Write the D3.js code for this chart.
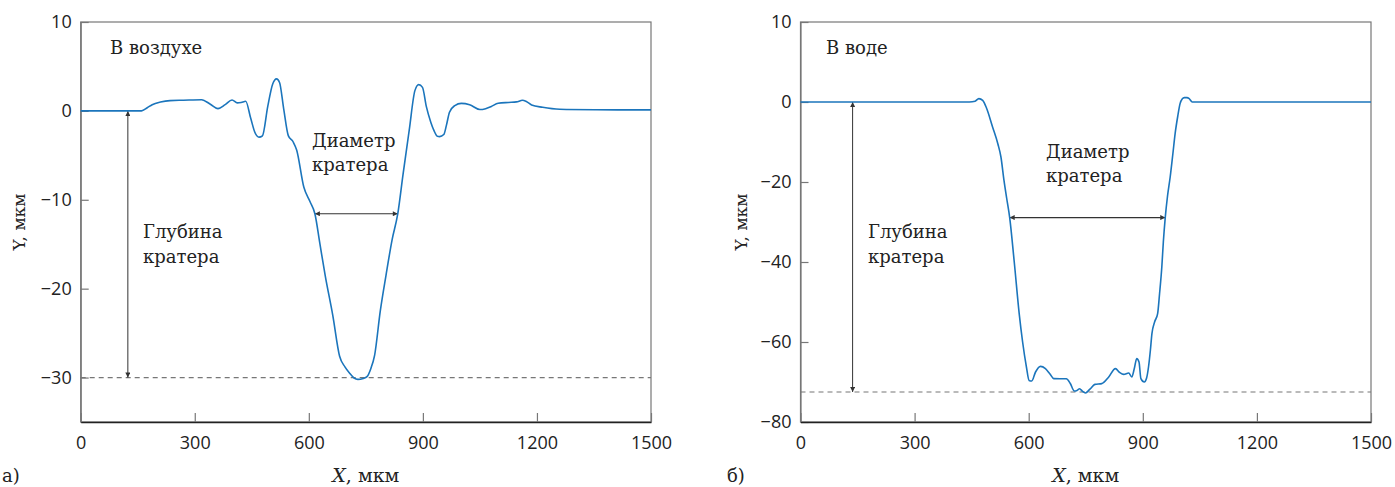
<!DOCTYPE html>
<html>
<head>
<meta charset="utf-8">
<script src="https://cdn.jsdelivr.net/npm/d3@7"></script>
<style>
  html, body { margin: 0; padding: 0; background: #fff; }
  svg { display: block; }
  .tick text { font-family: "Open Sans", "Noto Sans", sans-serif; font-size: 18px; fill: #222; }
  .serif { font-family: "DejaVu Serif", serif; fill: #222; }
</style>
</head>
<body>
<svg id="chart" width="1395" height="487"></svg>
<script>
// ---------- data ----------
const airX = [0,100,160,175,188,210,235,270,318,341,361,380,398,412,422,434,447,458,469,478,492,505,515,523,534,546,559,568,587,603,616,629,643,663,681,695,708,719,729,743,753,763,773,788,803,819,834,848,864,879,889,899,909,921,929,938,944,955,962,970,984,1001,1023,1050,1065,1080,1098,1125,1146,1162,1172,1186,1215,1260,1355,1500];
const airY = [0,0,0,0.35,0.7,1.0,1.16,1.2,1.25,0.75,0.25,0.7,1.23,0.9,0.95,1.08,-0.8,-2.4,-2.95,-2.8,0.5,3.03,3.6,3.2,0.2,-2.78,-3.5,-4.4,-8.6,-10.2,-11.57,-14.9,-18.5,-23,-27.6,-28.8,-29.55,-30.05,-30.2,-30.1,-29.9,-29.0,-27.5,-22.5,-18.5,-14.5,-11.57,-7.08,-2.2,2.28,2.96,2.65,0.5,-1.3,-2.2,-2.85,-2.89,-2.66,-1.6,-0.15,0.6,0.85,0.7,0.15,0.25,0.5,0.85,0.95,1.01,1.19,1.05,0.67,0.4,0.18,0.13,0.11];

const waterX = [0,444,459,469,479,489,505,519,527,535,542,550,562,575,584,594,601,608,618,631,644,656,666,699,709,720,727,734,741,749,761,774,792,810,828,839,850,863,871,878,884,890,895,904,910,915,920,924,931,939,944,950,954,959,965,972,979,985,992,998,1004,1009,1016,1022,1030,1100,1500];
const waterY = [0,0,0.2,0.85,0.4,-1.5,-6.25,-10.5,-13.75,-19.6,-24,-28.9,-40,-52.9,-60,-66.25,-69.6,-69.75,-67.5,-66.1,-66.65,-68,-69.15,-69.2,-70.3,-72.25,-72.1,-71.7,-72.3,-72.75,-71.8,-70.6,-70.4,-68.8,-66.65,-67.6,-68.1,-67.75,-68.75,-66.5,-64.15,-65,-69.15,-70,-69,-66.25,-62,-57.9,-55,-52.9,-48,-41.25,-35,-28.9,-23.5,-18.75,-13,-7.9,-3.5,-0.4,0.8,1.1,1.1,0.85,0,0,0];

const xTicks = [0,300,600,900,1200,1500];
const airYTicks = [10,0,-10,-20,-30];
const airYTickLabels = ["10","0","−10","−20","−30"];
const airYDomain = [-35,10];
// right panel: the top tick of the original axis sits one 20-step above 0 but is printed "10"
const waterYTicks = [20,0,-20,-40,-60,-80];
const waterYTickLabels = ["10","0","−20","−40","−60","−80"];
const waterYDomain = [-80,20];
const xDomain = [0,1500];

// annotation values (data units): [depthArrowX, depthY, diamLeftX, diamRightX, diamY]
const airMarks = [124, -30, 616, 834, -11.57];
const waterMarks = [137, -72.5, 550, 959, -28.9];

const panelLabels = ["а)", "б)"];
const envLabels = ["В воздухе", "В воде"];
const diamLabel = ["Диаметр", "кратера"];
const depthLabel = ["Глубина", "кратера"];

// ---------- drawing ----------
const svg = d3.select("#chart");
const defs = svg.append("defs");
["s","e"].forEach(id => {
  defs.append("marker")
    .attr("id", "arr-" + id)
    .attr("viewBox", "0 0 10 10")
    .attr("refX", id === "e" ? 10 : 0).attr("refY", 5)
    .attr("markerWidth", 7).attr("markerHeight", 5)
    .attr("markerUnits", "userSpaceOnUse")
    .attr("orient", "auto")
    .append("path")
    .attr("d", id === "e" ? "M0,0 L10,5 L0,10 Z" : "M10,0 L0,5 L10,10 Z")
    .attr("fill", "#333");
});

function panel(cfg) {
  const x = d3.scaleLinear().domain(xDomain).range([cfg.x0, cfg.x1]);
  const y = d3.scaleLinear().domain(cfg.yDomain).range([cfg.y1, cfg.y0]);
  const g = svg.append("g");

  // frame
  g.append("rect")
    .attr("x", cfg.x0).attr("y", cfg.y0)
    .attr("width", cfg.x1 - cfg.x0).attr("height", cfg.y1 - cfg.y0)
    .attr("fill", "none").attr("stroke", "#777").attr("stroke-width", 1.2);

  // axes
  const ya = g.append("g").attr("transform", `translate(${cfg.x0},0)`)
    .call(d3.axisLeft(y).tickValues(cfg.yTicks)
      .tickFormat((d, i) => cfg.yTickLabels[i])
      .tickSizeInner(-8).tickSizeOuter(0).tickPadding(9));
  ya.select(".domain").attr("stroke", "#777").attr("stroke-width", 1.2);
  ya.selectAll(".tick line").attr("stroke", "#777").attr("stroke-width", 1.2);

  const xa = g.append("g").attr("transform", `translate(0,${cfg.y1})`)
    .call(d3.axisBottom(x).tickValues(xTicks).tickFormat(d3.format("d"))
      .tickSizeInner(-9).tickSizeOuter(0).tickPadding(14));
  xa.select(".domain").attr("stroke", "#222").attr("stroke-width", 1.5);
  xa.selectAll(".tick line").attr("stroke", "#777").attr("stroke-width", 1.2);

  // dashed depth line
  const m = cfg.marks;
  g.append("line")
    .attr("x1", x(xDomain[0])).attr("x2", x(xDomain[1]))
    .attr("y1", y(m[1])).attr("y2", y(m[1]))
    .attr("stroke", "#777").attr("stroke-width", 1.2).attr("stroke-dasharray", "5,4");

  // arrows
  g.append("line")
    .attr("x1", x(m[0])).attr("x2", x(m[0]))
    .attr("y1", y(0)).attr("y2", y(m[1]))
    .attr("stroke", "#333").attr("stroke-width", 1)
    .attr("marker-start", "url(#arr-s)").attr("marker-end", "url(#arr-e)");
  g.append("line")
    .attr("x1", x(m[2])).attr("x2", x(m[3]))
    .attr("y1", y(m[4])).attr("y2", y(m[4]))
    .attr("stroke", "#333").attr("stroke-width", 1.2)
    .attr("marker-start", "url(#arr-s)").attr("marker-end", "url(#arr-e)");

  // profile curve
  const pts = cfg.xs.map((v, i) => [v, cfg.ys[i]]);
  g.append("path")
    .datum(pts)
    .attr("fill", "none").attr("stroke", "#1b75bc").attr("stroke-width", 1.6)
    .attr("stroke-linejoin", "round")
    .attr("d", d3.line().x(d => x(d[0])).y(d => y(d[1])).curve(d3.curveMonotoneX));

  // texts
  const t = (tx, ty, s) => g.append("text").attr("class", "serif")
    .attr("x", tx).attr("y", ty).attr("font-size", 18).text(s);
  t(cfg.envPos[0], cfg.envPos[1], cfg.env);
  t(cfg.diamPos[0], cfg.diamPos[1], diamLabel[0]);
  t(cfg.diamPos[0], cfg.diamPos[1] + 24, diamLabel[1]);
  t(cfg.depthPos[0], cfg.depthPos[1], depthLabel[0]);
  t(cfg.depthPos[0], cfg.depthPos[1] + 25, depthLabel[1]);

  // axis titles
  const xt = g.append("text").attr("class", "serif").attr("font-size", 19)
    .attr("text-anchor", "middle")
    .attr("x", (cfg.x0 + cfg.x1) / 2).attr("y", 482);
  xt.append("tspan").attr("font-style", "italic").text("X");
  xt.append("tspan").text(", мкм");

  g.append("text").attr("class", "serif").attr("font-size", 17)
    .attr("text-anchor", "middle")
    .attr("transform", `translate(${cfg.ylabX},${(cfg.y0 + cfg.y1) / 2}) rotate(-90)`)
    .text("Y, мкм");

  g.append("text").attr("class", "serif").attr("font-size", 18)
    .attr("x", cfg.panelX).attr("y", 482).text(cfg.panel);
}

panel({
  x0: 80.7, x1: 651, y0: 22, y1: 422,
  yDomain: airYDomain, yTicks: airYTicks, yTickLabels: airYTickLabels,
  xs: airX, ys: airY, marks: airMarks,
  env: envLabels[0], envPos: [110, 54],
  diamPos: [312, 147], depthPos: [143, 238],
  ylabX: 25, panel: panelLabels[0], panelX: 2
});
panel({
  x0: 800.5, x1: 1371, y0: 22, y1: 422,
  yDomain: waterYDomain, yTicks: waterYTicks, yTickLabels: waterYTickLabels,
  xs: waterX, ys: waterY, marks: waterMarks,
  env: envLabels[1], envPos: [826, 54],
  diamPos: [1046, 158], depthPos: [868, 238],
  ylabX: 747, panel: panelLabels[1], panelX: 727
});
</script>
</body>
</html>
